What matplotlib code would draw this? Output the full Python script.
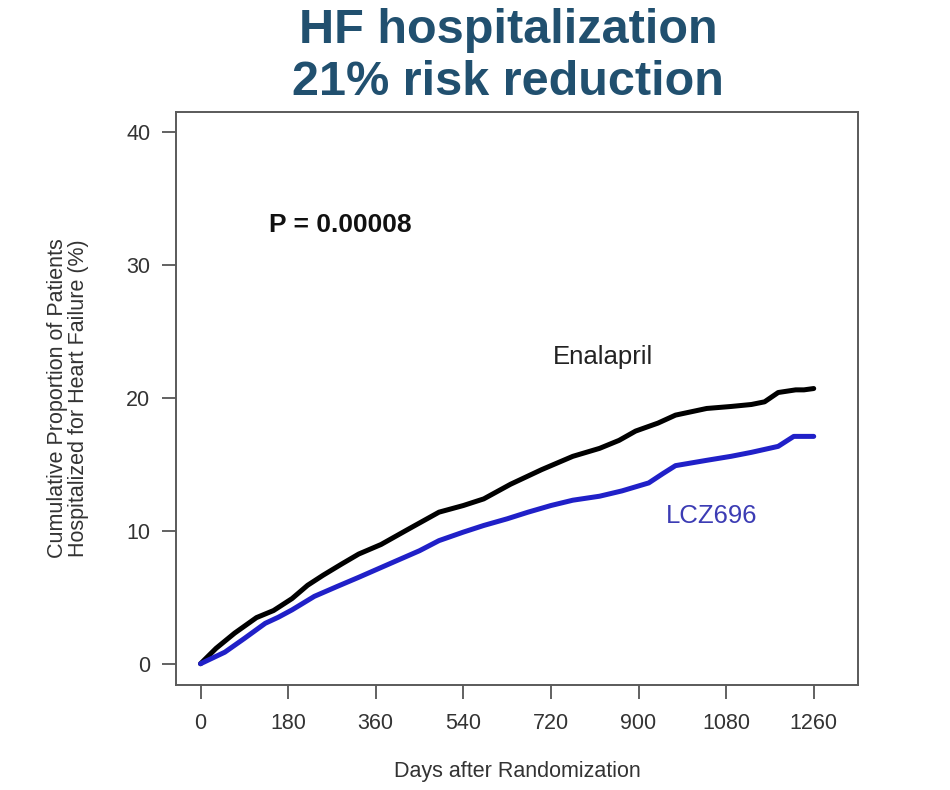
import matplotlib
matplotlib.use("Agg")
import matplotlib.pyplot as plt

# Data (days, cumulative %)
enal_days = [0, 32, 70, 115, 150, 188, 220, 252, 290, 325, 371, 426, 490, 540, 582,
             637, 701, 765, 820, 860, 894, 940, 976, 1040, 1090, 1132, 1159, 1187,
             1223, 1240, 1260]
enal_vals = [0, 1.16, 2.3, 3.47, 4.0, 4.9, 5.9, 6.66, 7.5, 8.25, 8.97, 10.1, 11.4,
             11.9, 12.4, 13.5, 14.6, 15.6, 16.2, 16.8, 17.5, 18.1, 18.7, 19.2, 19.35,
             19.5, 19.7, 20.4, 20.6, 20.6, 20.7]
lcz_days = [0, 50, 90, 133, 160, 188, 234, 280, 325, 398, 450, 490, 540, 582, 630,
            673, 720, 765, 820, 866, 921, 950, 976, 1040, 1090, 1132, 1187, 1219, 1260]
lcz_vals = [0, 0.87, 1.9, 3.04, 3.5, 4.05, 5.07, 5.8, 6.5, 7.67, 8.5, 9.26, 9.9,
            10.4, 10.9, 11.4, 11.9, 12.3, 12.6, 13.0, 13.6, 14.3, 14.9, 15.3, 15.6,
            15.9, 16.35, 17.1, 17.1]
x_ticks = [0, 180, 360, 540, 720, 900, 1080, 1260]
y_ticks = [0, 10, 20, 30, 40]

narrow = ['Liberation Sans Narrow', 'Liberation Sans', 'DejaVu Sans']
plt.rcParams['font.family'] = ['Liberation Sans', 'DejaVu Sans']

fig = plt.figure(figsize=(9.5, 7.9), dpi=100)
ax = fig.add_axes([176/950, 1-685/790, (858-176)/950, (685-112)/790])

ax.plot(enal_days, enal_vals, color='black', lw=3.6, solid_joinstyle='round',
        solid_capstyle='round')
ax.plot(lcz_days, lcz_vals, color='#2020c8', lw=3.6, solid_joinstyle='round',
        solid_capstyle='round')

ax.set_xlim(-50.4, 1351)
ax.set_ylim(-1.6, 41.5)
ax.set_xticks(x_ticks)
ax.set_yticks(y_ticks)
ax.tick_params(axis='both', direction='out', length=10, width=1.3, color='#555555',
               labelsize=15.5, labelcolor='#333333')
ax.tick_params(axis='x', pad=10.5)
ax.tick_params(axis='y', pad=8.5)
for s in ax.spines.values():
    s.set_color('#5a5a5a')
    s.set_linewidth(1.4)

ax.text(140, 33.0, 'P = 0.00008', fontsize=19, fontweight='bold', family=narrow,
        color='#111111', va='center', ha='left')
ax.text(724, 23.1, 'Enalapril', fontsize=18.5, family=['Liberation Sans', 'DejaVu Sans'],
        color='#222222', va='center', ha='left')
ax.text(956, 11.1, 'LCZ696', fontsize=18.5, family=['Liberation Sans', 'DejaVu Sans'],
        color='#3c3cb4', va='center', ha='left')

ax.set_xlabel('Days after Randomization', fontsize=15.5, color='#333333', labelpad=19)
ax.set_ylabel('Cumulative Proportion of Patients\nHospitalized for Heart Failure (%)',
              fontsize=15.5, color='#333333', labelpad=27, linespacing=1.0)

fig.text(0.535, 0.962, 'HF hospitalization', fontsize=35, fontweight='bold',
         family=narrow, color='#21506f', ha='center', va='center')
fig.text(0.535, 0.896, '21% risk reduction', fontsize=35, fontweight='bold',
         family=narrow, color='#21506f', ha='center', va='center')

fig.savefig('out.png', dpi=100, facecolor='white')
